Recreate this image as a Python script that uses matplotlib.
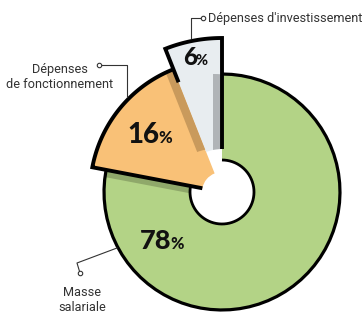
import numpy as np
import matplotlib.pyplot as plt
from matplotlib.patches import Wedge

# Budget breakdown (percent)
labels = ["Masse\nsalariale", "Dépenses\nde fonctionnement", "Dépenses d'investissement"]
shares = [78, 16, 6]

colors = ["#b3d386", "#f9c177", "#e8edf0"]
shade = ["#8fa86a", "#c99a5c", "#b0b4b7"]
radii = [118, 132, 154]
inner = [32, 20, 43]
cx, cy = 222, 192

# wedge boundaries, clockwise from 12 o'clock (y axis points down)
edges = -90 + 3.6 * np.concatenate([[0], np.cumsum(shares)])

fig = plt.figure(figsize=(3.63, 3.15), dpi=100)
ax = fig.add_axes([0, 0, 1, 1])
ax.set_xlim(0, 363)
ax.set_ylim(315, 0)
ax.set_aspect("equal")
ax.axis("off")


def pt(r, t):
    return cx + r * np.cos(np.radians(t)), cy + r * np.sin(np.radians(t))


def arc(r, t1, t2, n=60):
    t = np.radians(np.linspace(t1, t2, n))
    return cx + r * np.cos(t), cy + r * np.sin(t)


# fills
fills = []
for i in range(3):
    w = Wedge((cx, cy), radii[i], edges[i], edges[i + 1], width=radii[i] - inner[i],
              facecolor=colors[i], edgecolor="none", zorder=1)
    ax.add_patch(w)
    fills.append(w)

# shadows: (caster, receiver, offset px)
for src, dst, (dx, dy) in [(0, 2, (-9, 0)), (1, 0, (-2, 7)), (2, 1, (-9, 0))]:
    s = Wedge((cx + dx, cy + dy), radii[src], edges[src], edges[src + 1],
              width=radii[src] - inner[src], facecolor=shade[dst], edgecolor="none", zorder=2)
    ax.add_patch(s)
    s.set_clip_path(fills[dst])

ol = dict(color="black", solid_joinstyle="miter", solid_capstyle="butt", zorder=3)

# green outline: outer arc + hole
ax.plot(*arc(radii[0], edges[0], edges[1]), lw=2.3, **ol)
ax.plot(*arc(inner[0], edges[0], edges[1]), lw=2.0, **ol)

# orange outline
x0, y0 = pt(inner[1], edges[1])
xa, ya = arc(radii[1], edges[1], edges[2])
ax.plot(np.r_[x0, xa], np.r_[y0, ya], lw=2.8, **ol)

# blue outline
x0, y0 = pt(inner[2], edges[3])
xa, ya = arc(radii[2], edges[3], edges[2])
x1, y1 = pt(radii[0], edges[2])
ax.plot(np.r_[x0, xa, x1], np.r_[y0, ya, y1], lw=2.8, **ol)

# percentages
pfont = dict(family=["Lato", "DejaVu Sans"], fontweight="black", color="#111111", va="baseline", zorder=5)
pct_pos = [(171, 249, 19.5), (159, 143, 20), (197, 65, 17.5)]
for v, (x, y, fs) in zip(shares, pct_pos):
    ax.text(x, y, str(v), ha="right", fontsize=fs, **pfont)
    ax.text(x - 1, y, "%", ha="left", fontsize=fs * 0.6, **pfont)

# labels with leader lines
tfont = dict(family=["Roboto", "DejaVu Sans"], fontsize=9.2, color="#333333")
lead = dict(color="#333333", lw=0.8, zorder=4)
mk = dict(marker="o", ms=3.2, mfc="white", mec="#333333", mew=0.8, zorder=6)

ax.text(208, 22, labels[2], ha="left", va="baseline", **tfont)
ax.plot([203, 191, 191], [18, 18, 38], **lead)
ax.plot([203], [18], **mk)

ax.text(60, 77, labels[1], ha="center", va="center", multialignment="center",
        linespacing=1.25, **tfont)
ax.plot([99, 127, 127], [65, 65, 97], **lead)
ax.plot([99], [65], **mk)

ax.text(82, 300, labels[0], ha="center", va="center", multialignment="center",
        linespacing=1.25, **tfont)
ax.plot([80, 77, 117], [273, 263, 248], **lead)
ax.plot([80], [273], **mk)

fig.savefig("out.png", dpi=100)
